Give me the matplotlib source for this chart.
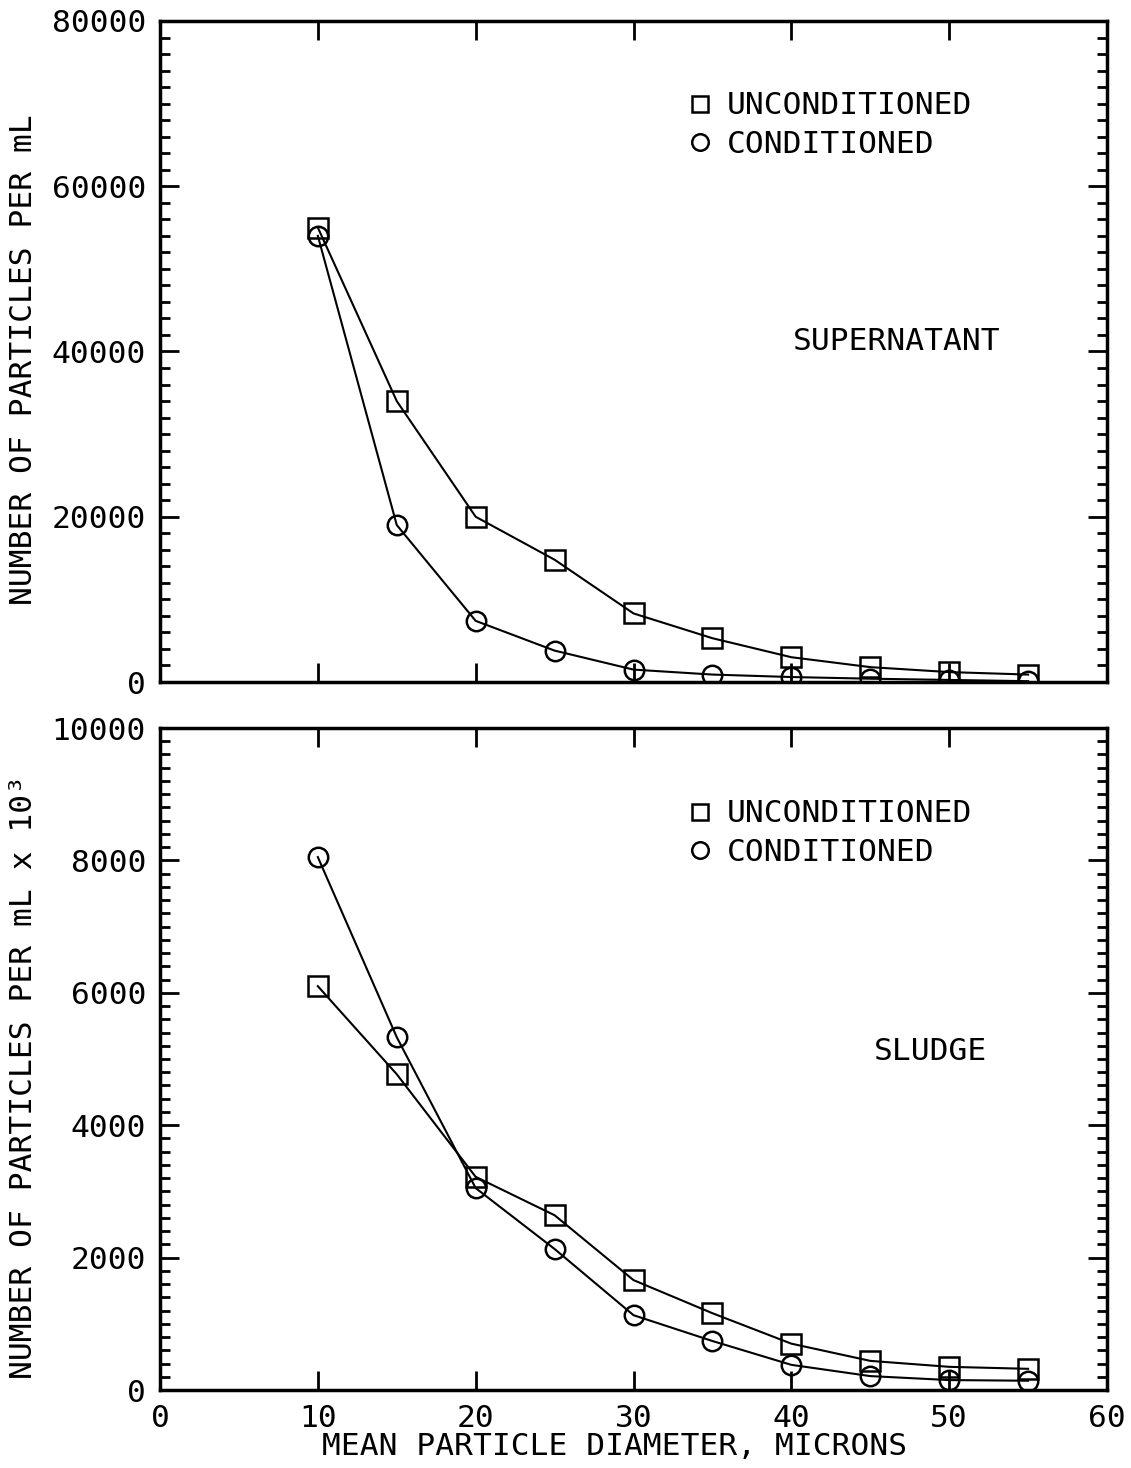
import matplotlib
matplotlib.use("Agg")
import matplotlib.pyplot as plt
from matplotlib.ticker import MultipleLocator

# ---- data ----
diameter = [10, 15, 20, 25, 30, 35, 40, 45, 50, 55]

super_uncond = [55000, 34000, 20000, 14800, 8300, 5300, 3000, 1800, 1200, 900]
super_cond = [54000, 19000, 7400, 3800, 1500, 900, 600, 400, 250, 100]

sludge_uncond = [6100, 4770, 3220, 2640, 1660, 1160, 700, 440, 350, 320]
sludge_cond = [8050, 5330, 3050, 2130, 1130, 740, 380, 210, 150, 140]

x_ticks = [0, 10, 20, 30, 40, 50, 60]
top_yticks = [0, 20000, 40000, 60000, 80000]
bot_yticks = [0, 2000, 4000, 6000, 8000, 10000]

legend_labels = ["UNCONDITIONED", "CONDITIONED"]
top_title = "SUPERNATANT"
bot_title = "SLUDGE"
top_ylabel = "NUMBER OF PARTICLES PER mL"
bot_ylabel = "NUMBER OF PARTICLES PER mL x 10\u00b3"
xlabel = "MEAN PARTICLE DIAMETER, MICRONS"

FONT = "DejaVu Sans Mono"
FS = 22.5
plt.rcParams["font.family"] = [FONT, "DejaVu Sans"]

W, H = 1131, 1468
fig = plt.figure(figsize=(W / 100, H / 100), dpi=100)

L, R = 160 / W, 1107 / W
AXW = 1107 - 160
ax1 = fig.add_axes([L, 1 - 682 / H, R - L, (682 - 21) / H])
ax2 = fig.add_axes([L, 1 - 1390 / H, R - L, (1390 - 728) / H])

mk = dict(color="black", linewidth=1.5, markersize=14, markerfacecolor="none",
          markeredgewidth=1.8, markeredgecolor="black")


def style(ax, ymax, ymajor, yminor):
    ax.set_xlim(0, 60)
    ax.set_ylim(0, ymax)
    ax.set_xticks(x_ticks)
    ax.yaxis.set_major_locator(MultipleLocator(ymajor))
    ax.yaxis.set_minor_locator(MultipleLocator(yminor))
    ax.tick_params(axis="both", which="major", direction="in", length=14, width=2,
                   top=True, right=True, labelsize=FS, pad=10)
    ax.tick_params(axis="y", which="minor", direction="in", length=7, width=2,
                   left=True, right=True)
    for s in ax.spines.values():
        s.set_linewidth(2.5)


def add_legend(ax, y_top_px, ax_top_px, ax_h_px):
    frac = 1 - (y_top_px - ax_top_px - 14) / ax_h_px
    leg = ax.legend(loc="upper left", bbox_to_anchor=((672 - 160) / AXW, frac),
                    frameon=False, fontsize=FS, handlelength=1.0,
                    handletextpad=0.35, labelspacing=0.3, borderaxespad=0,
                    markerscale=0.85)
    for h in leg.legend_handles:
        h.set_linestyle("none")


# ---- top panel ----
ax1.plot(diameter, super_uncond, marker="s", label=legend_labels[0], **mk)
ax1.plot(diameter, super_cond, marker="o", label=legend_labels[1], **mk)
style(ax1, 80000, 20000, 2000)
ax1.set_yticks(top_yticks)
ax1.set_yticklabels([str(v) for v in top_yticks])
ax1.tick_params(labelbottom=False)
ax1.set_ylabel(top_ylabel, fontsize=FS)
ax1.yaxis.set_label_coords(-(160 - 38) / AXW, (682 - 360) / 661)
ax1.text((897 - 160) / AXW, (682 - 341) / 661, top_title, transform=ax1.transAxes,
         fontsize=FS, ha="center", va="center")
add_legend(ax1, 93, 21, 661)

# ---- bottom panel ----
ax2.plot(diameter, sludge_uncond, marker="s", label=legend_labels[0], **mk)
ax2.plot(diameter, sludge_cond, marker="o", label=legend_labels[1], **mk)
style(ax2, 10000, 2000, 200)
ax2.set_yticks(bot_yticks)
ax2.set_yticklabels([str(v) for v in bot_yticks])
ax2.set_xticklabels([str(v) for v in x_ticks])
ax2.set_ylabel(bot_ylabel, fontsize=FS)
ax2.yaxis.set_label_coords(-(160 - 38) / AXW, (1390 - 1077) / 662)
ax2.set_xlabel(xlabel, fontsize=FS)
ax2.xaxis.set_label_coords((615 - 160) / AXW, -(1432 - 1390) / 662)
ax2.text((931 - 160) / AXW, (1390 - 1051) / 662, bot_title, transform=ax2.transAxes,
         fontsize=FS, ha="center", va="center")
add_legend(ax2, 801, 728, 662)

fig.savefig("out.png", dpi=100)
